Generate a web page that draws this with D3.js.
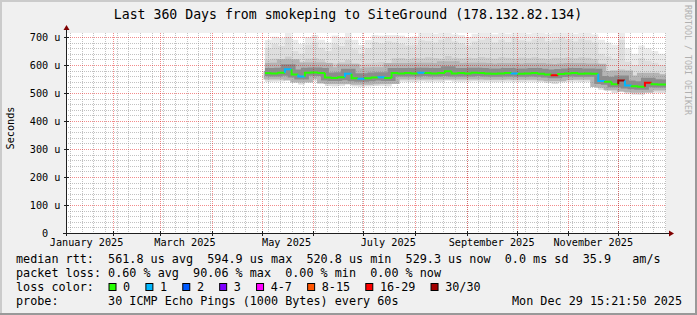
<!DOCTYPE html>
<html>
<head>
<meta charset="utf-8">
<script src="https://cdn.jsdelivr.net/npm/d3@7"></script>
<style>
body { margin: 0; background: #fff; }
svg { display: block; font-family: "DejaVu Sans Mono", monospace; }
text { white-space: pre; }
</style>
</head>
<body>
<svg id="chart"></svg>
<script>
// time window of the graph
var startTime = new Date(Date.UTC(2025, 0, 3, 15, 21, 50))
var endTime = new Date(Date.UTC(2025, 11, 29, 15, 21, 50))

// values, one bin every 4 days from May 3 2025 (microseconds)
var binStart = new Date(Date.UTC(2025, 4, 3))
var binDays = 4
var medianRtt = [571,570,572,585,566,559,572,573,571,555,
                 554,556,569,553,551,553,555,556,554,571,
                 570,571,570,572,571,570,571,578,570,571,
                 570,572,571,570,569,570,571,570,569,570,
                 571,569,566,563,568,570,571,569,570,569,
                 543,540,531,545,527,524,522,537,531,530]
var lossIdx = [0,0,0,1,0,1,0,0,0,0,
               0,0,1,0,1,0,0,1,0,0,
               0,0,0,1,0,0,0,0,0,0,
               0,0,0,0,0,0,0,1,0,0,
               0,0,0,6,0,0,0,0,0,0,
               1,0,0,7,1,0,0,6,0,0]
var minRtt = [540,541,542,548,538,530,542,543,541,525,
              524,526,538,524,522,524,525,526,524,540,
              541,540,539,542,540,541,540,545,541,540,
              541,542,540,541,539,540,541,540,539,541,
              540,539,536,532,538,540,541,539,540,538,
              512,508,500,505,498,495,494,505,502,500]
var p90Rtt = [620,622,621,630,618,612,622,624,620,608,
              606,610,618,605,603,606,608,610,606,624,
              625,622,626,624,628,625,623,632,626,624,
              627,625,629,626,623,628,626,624,627,625,
              628,624,622,626,625,627,624,628,626,622,
              580,572,565,585,562,558,556,568,562,560]
var p97Rtt = [660,675,668,700,650,640,672,680,662,650,
              676,668,690,655,640,660,682,678,685,680,
              676,670,672,688,686,680,690,700,684,678,
              670,684,690,696,680,690,682,698,688,684,
              692,700,684,690,698,692,684,694,688,680,
              640,630,622,690,612,600,625,615,608,600]
var maxRtt = [689,701,696,718,690,675,700,707,690,680,
              705,700,718,690,671,689,707,705,707,707,
              705,700,702,714,714,712,714,718,710,707,
              700,712,714,718,710,716,712,718,714,712,
              716,718,712,714,718,716,712,716,714,710,
              690,680,672,718,660,640,670,660,650,640]

var yTicks = [0, 100, 200, 300, 400, 500, 600, 700]
var yMax = 714.29
var monthLabels = ["January 2025", "March 2025", "May 2025", "July 2025", "September 2025", "November 2025"]

var lossLabels = ["0", "1", "2", "3", "4-7", "8-15", "16-29", "30/30"]
var lossColors = ["#26ff00", "#00b8ff", "#0059ff", "#7e00ff", "#ff00ff", "#ff5500", "#ff0000", "#a10000"]

var titleText = "Last 360 Days from smokeping to SiteGround (178.132.82.134)"
var legendRtt = "median rtt:  561.8 us avg  594.9 us max  520.8 us min  529.3 us now  0.0 ms sd  35.9   am/s"
var legendLoss = "packet loss: 0.60 % avg  90.06 % max  0.00 % min  0.00 % now"
var legendColor = "loss color:"
var legendProbe = "probe:       30 ICMP Echo Pings (1000 Bytes) every 60s"
var stampText = "Mon Dec 29 15:21:50 2025"

var screen = {width: 697, height: 315}
var plot = {left: 66, right: 666, top: 33, bottom: 233}

var svg = d3.select("#chart")
    .attr("width", screen.width)
    .attr("height", screen.height)

// background and 3d border
svg.append("rect").attr("width", screen.width).attr("height", screen.height).attr("fill", "#f0f0f0")
svg.append("rect").attr("x", 0).attr("y", 0).attr("width", screen.width).attr("height", 2).attr("fill", "#cbcbcb")
svg.append("rect").attr("x", 0).attr("y", 0).attr("width", 2).attr("height", screen.height).attr("fill", "#cbcbcb")
svg.append("rect").attr("x", 0).attr("y", screen.height - 2).attr("width", screen.width).attr("height", 2).attr("fill", "#999999")
svg.append("rect").attr("x", screen.width - 2).attr("y", 0).attr("width", 2).attr("height", screen.height).attr("fill", "#999999")

svg.append("rect")
    .attr("x", plot.left).attr("y", plot.top)
    .attr("width", plot.right - plot.left).attr("height", plot.bottom - plot.top)
    .attr("fill", "#ffffff")

var xScale = d3.scaleUtc().domain([startTime, endTime]).range([plot.left, plot.right])
var yScale = d3.scaleLinear().domain([0, yMax]).range([plot.bottom, plot.top])

svg.append("clipPath").attr("id", "clip")
    .append("rect")
    .attr("x", plot.left).attr("y", plot.top)
    .attr("width", plot.right - plot.left).attr("height", plot.bottom - plot.top)

// build the bins; last point repeated so the step reaches the end
var bins = medianRtt.map(function(m, i) {
    return {t: d3.utcDay.offset(binStart, binDays * i), med: m, lo: minRtt[i],
            p90: p90Rtt[i], p97: p97Rtt[i], hi: maxRtt[i], loss: lossIdx[i]}
})
var stepData = bins.concat([Object.assign({}, bins[bins.length - 1], {t: endTime})])

var smoke = svg.append("g").attr("clip-path", "url(#clip)")

var smokeArea = function(lowKey, highKey) {
    return d3.area().curve(d3.curveStepAfter)
        .x(function(d) { return xScale(d.t) })
        .y0(function(d) { return yScale(d[lowKey]) })
        .y1(function(d) { return yScale(d[highKey]) })
}
smoke.append("path").datum(stepData).attr("d", smokeArea("lo", "hi")).attr("fill", "#ebebeb")
smoke.append("path").datum(stepData).attr("d", smokeArea("lo", "p97")).attr("fill", "#dedede")
smoke.append("path").datum(stepData).attr("d", smokeArea("med", "p90")).attr("fill", "#cdcdcd")

// darker core of the smoke round the median
var medLine = d3.line().curve(d3.curveStepAfter)
    .x(function(d) { return xScale(d.t) })
    .y(function(d) { return yScale(d.med) })
smoke.append("path").datum(stepData).attr("d", medLine)
    .attr("fill", "none").attr("stroke", "#b4b4b4").attr("stroke-width", 16)
    .attr("transform", "translate(0,-2)")
smoke.append("path").datum(stepData).attr("d", medLine)
    .attr("fill", "none").attr("stroke", "#8c8c8c").attr("stroke-width", 8)
    .attr("transform", "translate(0,-1)")

// grid
var grid = svg.append("g")
var minorY = d3.range(20, 701, 20).filter(function(v) { return v % 100 != 0 })
grid.selectAll(".hmin").data(minorY).enter().append("line")
    .attr("x1", plot.left).attr("x2", plot.right)
    .attr("y1", function(d) { return Math.round(yScale(d)) + 0.5 })
    .attr("y2", function(d) { return Math.round(yScale(d)) + 0.5 })
    .attr("stroke", "rgba(143,143,143,0.55)").attr("stroke-dasharray", "1,1")

var weeks = d3.utcMonday.range(startTime, endTime)
grid.selectAll(".vmin").data(weeks).enter().append("line")
    .attr("x1", function(d) { return Math.round(xScale(d)) + 0.5 })
    .attr("x2", function(d) { return Math.round(xScale(d)) + 0.5 })
    .attr("y1", plot.top).attr("y2", plot.bottom)
    .attr("stroke", "rgba(143,143,143,0.55)").attr("stroke-dasharray", "1,1")

grid.selectAll(".hmaj").data(yTicks.slice(1)).enter().append("line")
    .attr("x1", plot.left).attr("x2", plot.right)
    .attr("y1", function(d) { return Math.round(yScale(d)) + 0.5 })
    .attr("y2", function(d) { return Math.round(yScale(d)) + 0.5 })
    .attr("stroke", "rgba(229,0,0,0.45)").attr("stroke-dasharray", "1,1")

var months = d3.utcMonth.range(startTime, endTime)
grid.selectAll(".vmaj").data(months).enter().append("line")
    .attr("x1", function(d) { return Math.round(xScale(d)) + 0.5 })
    .attr("x2", function(d) { return Math.round(xScale(d)) + 0.5 })
    .attr("y1", plot.top).attr("y2", plot.bottom)
    .attr("stroke", "rgba(229,0,0,0.45)").attr("stroke-dasharray", "1,1")

// median line, coloured by loss
var medGroup = svg.append("g").attr("clip-path", "url(#clip)")
bins.forEach(function(b, i) {
    var tNext = i < bins.length - 1 ? bins[i + 1].t : endTime
    var prev = i > 0 ? bins[i - 1].med : b.med
    var pts = [[b.t, prev], [b.t, b.med], [tNext, b.med]]
    medGroup.append("path")
        .datum(pts)
        .attr("d", d3.line().x(function(d) { return xScale(d[0]) }).y(function(d) { return yScale(d[1]) }))
        .attr("fill", "none")
        .attr("stroke", lossColors[b.loss])
        .attr("stroke-width", 2)
})

// axes
var axisColor = "#1f1f1f"
var arrowColor = "#7f0000"
svg.append("line").attr("x1", plot.left + 0.5).attr("x2", plot.left + 0.5)
    .attr("y1", plot.bottom + 3).attr("y2", plot.top - 4).attr("stroke", axisColor)
svg.append("line").attr("x1", plot.left - 3).attr("x2", plot.right + 4)
    .attr("y1", plot.bottom + 0.5).attr("y2", plot.bottom + 0.5).attr("stroke", axisColor)
svg.append("path")
    .attr("d", "M" + (plot.left - 2.5) + "," + (plot.top - 3) + "L" + (plot.left + 0.5) + "," + (plot.top - 8) + "L" + (plot.left + 3.5) + "," + (plot.top - 3) + "Z")
    .attr("fill", arrowColor)
svg.append("path")
    .attr("d", "M" + (plot.right + 3) + "," + (plot.bottom - 2.5) + "L" + (plot.right + 8) + "," + (plot.bottom + 0.5) + "L" + (plot.right + 3) + "," + (plot.bottom + 3.5) + "Z")
    .attr("fill", arrowColor)

// ticks on axes
svg.selectAll(".ytick").data(yTicks.slice(1)).enter().append("line")
    .attr("x1", plot.left - 2).attr("x2", plot.left + 3)
    .attr("y1", function(d) { return Math.round(yScale(d)) + 0.5 })
    .attr("y2", function(d) { return Math.round(yScale(d)) + 0.5 })
    .attr("stroke", axisColor)
svg.selectAll(".xtick").data(months).enter().append("line")
    .attr("x1", function(d) { return Math.round(xScale(d)) + 0.5 })
    .attr("x2", function(d) { return Math.round(xScale(d)) + 0.5 })
    .attr("y1", plot.bottom - 2).attr("y2", plot.bottom + 3)
    .attr("stroke", axisColor)

// labels like rrdtool "%3.0lf %s": the zero has no unit so it sits in the number column
var yAxis = d3.axisLeft(yScale).tickValues(yTicks).tickSize(0).tickPadding(0)
    .tickFormat(function(d) { return d == 0 ? "0" : d + " u" })
var yg = svg.append("g").attr("transform", "translate(60.5,0)").call(yAxis)
yg.select(".domain").remove()
yg.selectAll("text").attr("font-family", "DejaVu Sans Mono").attr("font-size", "10.2px").attr("fill", "#000").attr("dy", "0.36em")
    .attr("x", function(d) { return d == 0 ? -12.3 : 0 })

var labelDates = months.filter(function(d) { return d.getUTCMonth() % 2 == 0 })
var xg = svg.append("g")
xg.selectAll("text").data(labelDates).enter().append("text")
    .attr("x", function(d) { return xScale(d3.utcDay.offset(d, 15)) })
    .attr("y", 246)
    .attr("text-anchor", "middle")
    .attr("font-size", "10.2px")
    .text(function(d, i) { return monthLabels[i + 1] })
xg.append("text")
    .attr("x", xScale(new Date(Date.UTC(2025, 0, 16))))
    .attr("y", 246).attr("text-anchor", "middle").attr("font-size", "10.2px")
    .text(monthLabels[0])

// title, unit, watermark
svg.append("text").attr("x", 348).attr("y", 18.5).attr("text-anchor", "middle")
    .attr("font-size", "13.2px").text(titleText)
svg.append("text").attr("transform", "translate(14,128) rotate(-90)").attr("text-anchor", "middle")
    .attr("font-size", "10.2px").text("Seconds")
svg.append("text").attr("transform", "translate(685,5) rotate(90)")
    .attr("font-size", "8.3px").attr("fill", "#b0b0b0").text("RRDTOOL / TOBI OETIKER")

// legend
var legendFont = "11.78px"
svg.append("text").attr("x", 16).attr("y", 263).attr("font-size", legendFont).text(legendRtt)
svg.append("text").attr("x", 16).attr("y", 277).attr("font-size", legendFont).text(legendLoss)
svg.append("text").attr("x", 16).attr("y", 291).attr("font-size", legendFont).text(legendColor)
svg.append("text").attr("x", 16).attr("y", 305).attr("font-size", legendFont).text(legendProbe)
svg.append("text").attr("x", 682).attr("y", 305).attr("text-anchor", "end").attr("font-size", legendFont).text(stampText)

var charW = 7.09
var bx = 108.5
lossLabels.forEach(function(lbl, i) {
    svg.append("rect").attr("x", bx + 0.5).attr("y", 283.5).attr("width", 7).attr("height", 7)
        .attr("fill", lossColors[i]).attr("stroke", "#000")
    svg.append("text").attr("x", bx + 14.6).attr("y", 291).attr("font-size", legendFont).text(lbl)
    bx = bx + 14.6 + lbl.length * charW + 15.2
})
</script>
</body>
</html>
